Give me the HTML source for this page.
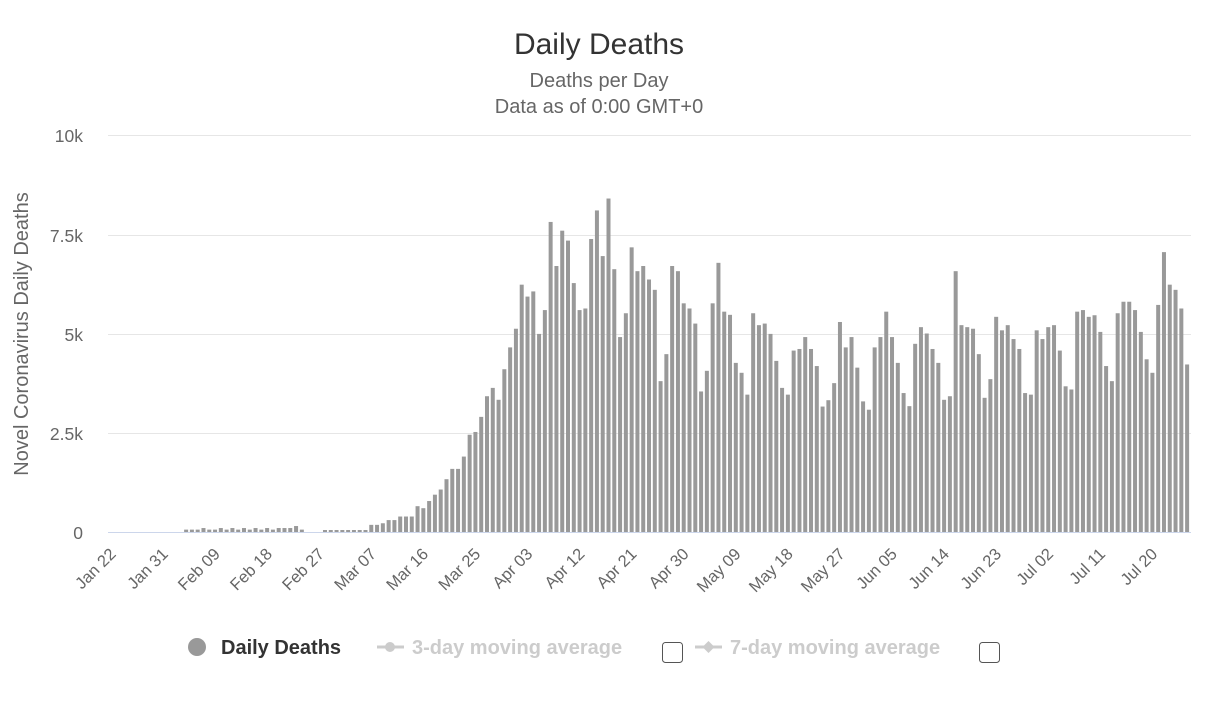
<!DOCTYPE html>
<html><head><meta charset="utf-8"><style>
body{margin:0;background:#fff;font-family:"Liberation Sans",Arial,sans-serif}
svg text{font-family:"Liberation Sans",Arial,sans-serif}
</style></head><body>
<svg id="c" width="1209" height="709" xmlns="http://www.w3.org/2000/svg">
<rect width="1209" height="709" fill="#fff"/>
<text x="599" y="54" text-anchor="middle" font-size="30" fill="#333">Daily Deaths</text>
<text x="599" y="87" text-anchor="middle" font-size="20" fill="#666">Deaths per Day</text>
<text x="599" y="113" text-anchor="middle" font-size="20" fill="#666">Data as of 0:00 GMT+0</text>
<g stroke="#e6e6e6" stroke-width="1">
<line x1="108" x2="1191" y1="135.5" y2="135.5"/>
<line x1="108" x2="1191" y1="235.5" y2="235.5"/>
<line x1="108" x2="1191" y1="334.5" y2="334.5"/>
<line x1="108" x2="1191" y1="433.5" y2="433.5"/>
</g>
<g font-size="17.5" fill="#666" text-anchor="end">
<text x="83" y="142">10k</text>
<text x="83" y="242">7.5k</text>
<text x="83" y="341">5k</text>
<text x="83" y="440">2.5k</text>
<text x="83" y="539">0</text>
</g>
<text transform="translate(28,334) rotate(-90)" text-anchor="middle" font-size="20" fill="#666">Novel Coronavirus Daily Deaths</text>
<g id="bars" fill="#999"></g>
<line x1="108" x2="1191" y1="532.5" y2="532.5" stroke="#ccd6eb"/>
<g id="xl" font-size="16.5" fill="#666" text-anchor="end"></g>
<g font-size="20" font-weight="bold">
<circle cx="197" cy="647" r="9" fill="#999"/>
<text x="221" y="654" fill="#333">Daily Deaths</text>
<line x1="377" x2="404" y1="647" y2="647" stroke="#ccc" stroke-width="3"/>
<circle cx="390" cy="647" r="5" fill="#ccc"/>
<text x="412" y="654" fill="#ccc">3-day moving average</text>
<rect x="662.5" y="642.5" width="20" height="20" rx="3" fill="#fff" stroke="#555"/>
<line x1="695" x2="722" y1="647" y2="647" stroke="#ccc" stroke-width="3"/>
<path d="M708.5 641 L714.5 647 L708.5 653 L702.5 647Z" fill="#ccc"/>
<text x="730" y="654" fill="#ccc">7-day moving average</text>
<rect x="979.5" y="642.5" width="20" height="20" rx="3" fill="#fff" stroke="#555"/>
</g>
</svg>
<script>
var tail=[3.63,3.33,4.1,4.65,5.12,6.23,5.93,6.06,4.99,5.59,7.81,6.7,7.59,7.34,6.27,5.59,5.63,7.38,8.1,6.95,8.4,6.62,4.91,5.51,7.17,6.57,6.7,6.36,6.1,3.8,4.48,6.7,6.57,5.76,5.63,5.25,3.54,4.06,5.76,6.78,5.55,5.47,4.26,4.01,3.46,5.51,5.21,5.25,4.99,4.31,3.63,3.46,4.57,4.61,4.91,4.61,4.18,3.16,3.32,3.75,5.29,4.65,
4.91,4.14,3.29,3.08,4.65,4.91,5.55,4.91,4.26,3.5,3.17,4.74,5.16,5.0,4.61,4.26,3.33,3.42,6.57,5.21,5.16,5.12,4.48,3.38,3.85,5.42,5.08,5.21,4.86,4.61,3.5,3.46,5.08,4.86,5.16,5.21,4.57,3.67,3.59,5.55,5.59,5.42,5.46,5.04,4.18,3.8,5.51,5.8,5.8,5.59,5.04,4.35,4.01,5.72,7.05,6.23,6.1,5.63,4.22];
var rise=[0.18,0.18,0.22,0.3,0.3,0.39,0.39,0.39,0.65,0.6,0.78,0.94,1.07,1.33,1.59,1.59,1.9,2.45,2.52,2.9,3.42];
var d=[];for(var i=0;i<187;i++)d.push(0);
for(i=13;i<=33;i++)d[i]=0.06;
[16,19,21,23,25,27,29,30,31].forEach(function(k){d[k]=0.1});d[32]=0.15;
d[37]=0.05;for(i=38;i<=44;i++)d[i]=0.05;
for(i=0;i<rise.length;i++)d[45+i]=rise[i];
for(i=0;i<tail.length;i++)d[66+i]=tail[i];
var sp=(1190-108)/187,g=document.getElementById('bars'),h='';
for(i=0;i<187;i++){if(d[i]<=0)continue;var hh=d[i]*39.7;var x=108+sp*i+0.9;
h+='<rect x="'+x.toFixed(2)+'" y="'+(532-hh).toFixed(2)+'" width="4" height="'+hh.toFixed(2)+'"/>';}
g.innerHTML=h;
var labs=["Jan 22","Jan 31","Feb 09","Feb 18","Feb 27","Mar 07","Mar 16","Mar 25","Apr 03","Apr 12","Apr 21","Apr 30","May 09","May 18","May 27","Jun 05","Jun 14","Jun 23","Jul 02","Jul 11","Jul 20"];
var xl=document.getElementById('xl'),s='';
labs.forEach(function(t,j){var x=108+sp*(j*9+0.5)+6;s+='<text transform="translate('+x.toFixed(1)+',555) rotate(-45)">'+t+'</text>';});
xl.innerHTML=s;
</script>
</body></html>
